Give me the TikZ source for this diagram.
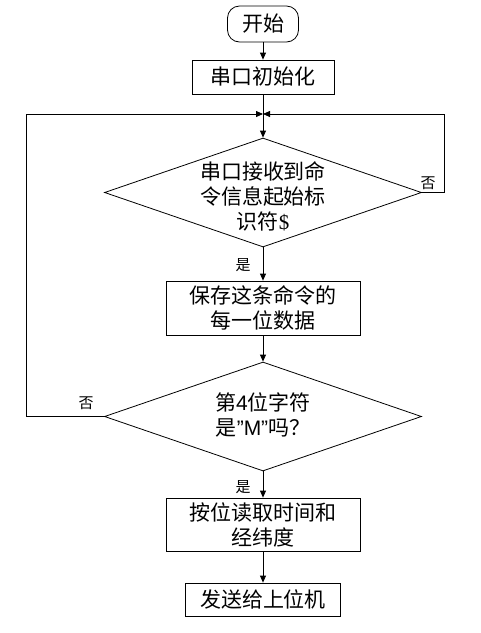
\documentclass[tikz,border=0pt]{standalone}
\usepackage{fontspec}
\setmainfont{Liberation Serif}
\newfontfamily\cjk{Noto Sans CJK SC}
\newfontfamily\arial{Liberation Sans}
\usetikzlibrary{shapes.geometric,arrows.meta}
\begin{document}
\begin{tikzpicture}[x=1pt,y=-1pt,
 every node/.style={font=\cjk\fontsize{21}{25}\selectfont, align=center, inner sep=0pt},
 box/.style={draw, line width=0.8pt},
 dia/.style={draw, diamond, line width=0.8pt, inner sep=0pt},
 lbl/.style={font=\cjk\fontsize{15}{16}\selectfont},
 arr/.style={-{Triangle[length=7pt,width=6pt]}, line width=0.8pt},
 ln/.style={line width=0.8pt}]
\useasboundingbox (0,0) rectangle (481,633);
\node[box, rounded corners=12pt, minimum width=71pt, minimum height=36pt] (start) at (263,24) {开始};
\node[box, minimum width=142pt, minimum height=34pt] (init) at (263,77) {串口初始化};
\coordinate (merge) at (263,114);
\node[dia, minimum width=317pt, minimum height=109pt] (d1) at (263,192.5) {};
\node (d1t) at (263,196) {串口接收到命\\令信息起始标\\识符{\rmfamily\$}};
\node[box, minimum width=194pt, minimum height=54pt] (save) at (263,308) {保存这条命令的\\每一位数据};
\node[dia, minimum width=317pt, minimum height=109pt] (d2) at (263,416.5) {};
\node (d2t) at (263,415) {第{\arial 4}位字符\\是{\arial ”M”}吗？};
\node[box, minimum width=194pt, minimum height=53pt] (read) at (263,524.5) {按位读取时间和\\经纬度};
\node[box, minimum width=155pt, minimum height=33pt] (send) at (263,599.5) {发送给上位机};
\coordinate (lc) at (26,114);
\coordinate (rc) at (444,114);
\draw[arr] (start) -- (init);
\draw[ln] (init) -- (merge);
\draw[arr] (merge) -- (d1.north);
\draw[arr] (d1.south) -- (save.north);
\draw[arr] (save) -- (d2.north);
\draw[arr] (d2.south) -- (read.north);
\draw[arr] (read) -- (send);
\draw[arr] (d1.east) -| (rc) -- (merge);
\draw[arr] (d2.west) -| (lc) -- (merge);
\node[lbl] (no1) at (428,183) {否};
\node[lbl] (yes1) at (243,265) {是};
\node[lbl] (no2) at (86,403) {否};
\node[lbl] (yes2) at (243,487) {是};
\end{tikzpicture}
\end{document}
